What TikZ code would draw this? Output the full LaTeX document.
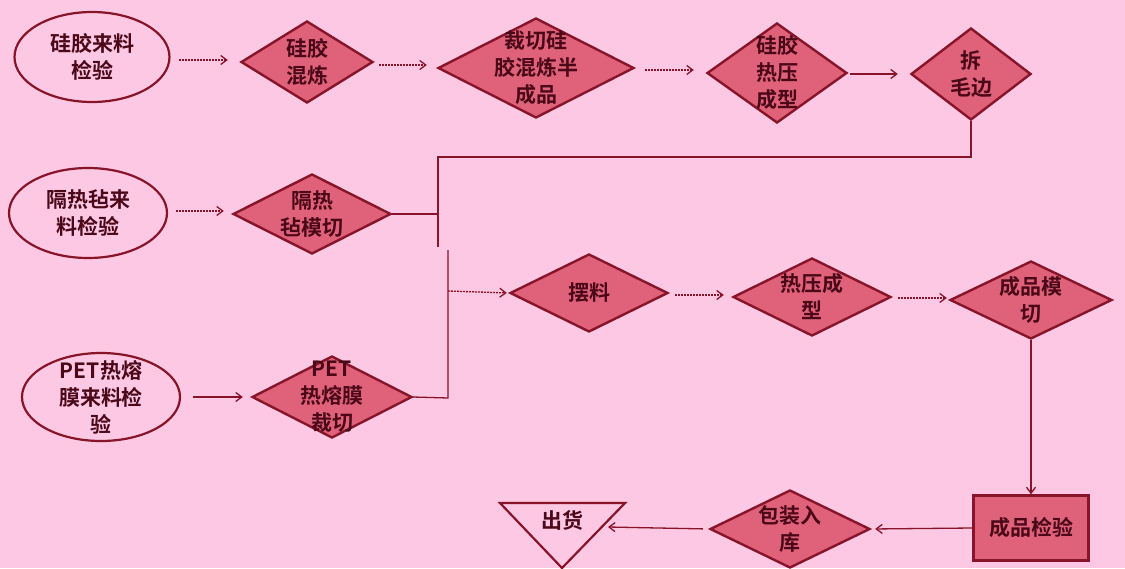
\documentclass[tikz,border=0pt]{standalone}
\usepackage{fontspec}
\newfontfamily\cjk{Noto Sans CJK SC Bold}
\usetikzlibrary{shapes.geometric,arrows.meta}
\definecolor{bg}{RGB}{252,200,228}
\definecolor{dfill}{RGB}{224,98,122}
\definecolor{edge}{RGB}{135,20,40}
\definecolor{ink}{RGB}{75,8,24}
\tikzset{
  x=1pt,y=-1pt,
  dia/.style={draw=edge,line width=2.4pt,fill=dfill,shape=diamond,inner sep=0pt},
  ell/.style={draw=edge,line width=2.2pt,fill=bg,shape=ellipse,inner sep=0pt},
  box/.style={draw=edge,line width=2.4pt,fill=dfill,shape=rectangle,inner sep=0pt},
  txt/.style={text=ink,font=\cjk\fontsize{21}{27}\selectfont,align=center,inner sep=0pt},
  link/.style={draw=edge,line width=1.3pt},
  dlink/.style={draw=edge,line width=1.3pt,dash pattern=on 2pt off 1pt,-{Straight Barb[length=6pt,width=9pt,line width=1.3pt]}},
  slink/.style={draw=edge,line width=1.3pt,-{Straight Barb[length=6pt,width=9pt,line width=1.3pt]}},
}
\begin{document}
\begin{tikzpicture}
\path[use as bounding box,fill=bg] (0,0) rectangle (1125,568);

% row 1
\node[ell,minimum width=155pt,minimum height=90pt] (e1) at (92,57) {};
\node[txt] at (e1) {硅胶来料\\检验};
\node[dia,minimum width=132pt,minimum height=82pt] (d1) at (307,62) {};
\node[txt] at (d1) {硅胶\\混炼};
\node[dia,minimum width=196pt,minimum height=100pt] (d2) at (536,68) {};
\node[txt] at (d2) {裁切硅\\胶混炼半\\成品};
\node[dia,minimum width=140pt,minimum height=100pt] (d3) at (777,73) {};
\node[txt] at (d3) {硅胶\\热压\\成型};
\node[dia,minimum width=120pt,minimum height=92pt] (d4) at (971,74) {};
\node[txt] at (d4) {拆\\毛边};

% row 2
\node[ell,minimum width=158pt,minimum height=90pt] (e2) at (88,213) {};
\node[txt] at (e2) {隔热毡来\\料检验};
\node[dia,minimum width=158pt,minimum height=80pt] (d5) at (312,214) {};
\node[txt] at (d5) {隔热\\毡模切};

% row 3
\node[ell,minimum width=158pt,minimum height=88pt] (e3) at (101,397) {};
\node[txt] at (e3) {PET热熔\\膜来料检\\验};
\node[dia,minimum width=160pt,minimum height=82pt] (d6) at (332,397) {};
\node[txt] at (d6) {PET\\热熔膜\\裁切};

% middle row
\node[dia,minimum width=158pt,minimum height=78pt] (d7) at (589,293) {};
\node[txt] at (d7) {摆料};
\node[dia,minimum width=158pt,minimum height=78pt] (d8) at (812,297) {};
\node[txt] at (d8) {热压成\\型};
\node[dia,minimum width=162pt,minimum height=78pt] (d9) at (1031,300) {};
\node[txt] at (d9) {成品模\\切};

% bottom row
\node[box,minimum width=115pt,minimum height=65pt] (r) at (1031,528) {};
\node[txt] at (r) {成品检验};
\node[dia,minimum width=160pt,minimum height=78pt] (d10) at (790,529) {};
\node[txt] at (d10) {包装入\\库};
\draw[draw=edge,line width=2.2pt,fill=bg,line join=miter] (500,503) -- (625,503) -- (562,568) -- cycle;
\node[txt] (t) at (562,520) {出货};
\coordinate (tr) at (608,527);

% bus coordinates
\coordinate (j1) at (438,157);
\coordinate (j2) at (438,247);
\coordinate (j3) at (448,250);
\coordinate (j4) at (448,398);
\coordinate (j5) at (448,291);

% connectors
\draw[dlink,shorten <=8pt,shorten >=12pt] (e1.east |- 0,60) -- (d1.west |- 0,60);
\draw[dlink,shorten <=5pt,shorten >=10pt] (d1.east |- 0,65) -- (d2.west |- 0,65);
\draw[dlink,shorten <=10pt,shorten >=12pt] (d2.east |- 0,70) -- (d3.west |- 0,70);
\draw[slink,shorten <=2pt,shorten >=12pt] (d3.east |- 0,74) -- (d4.west |- 0,74);
\draw[link] (d4.south) |- (j1) -- (j2);
\draw[dlink,shorten <=8pt,shorten >=8pt] (e2.east |- 0,211) -- (d5.west |- 0,211);
\draw[link] (d5.east) -- (d5.east -| j1);
\draw[slink,shorten <=12pt,shorten >=8pt] (e3.east) -- (d6.west);
\draw[link] (d6.east) -- (j4) -- (j3);
\draw[dlink,shorten >=2pt] (j5) -- (d7.west);
\draw[dlink,shorten <=6pt,shorten >=8pt] (d7.east |- 0,295) -- (d8.west |- 0,295);
\draw[dlink,shorten <=6pt,shorten >=2pt] (d8.east |- 0,298) -- (d9.west |- 0,298);
\draw[slink] (d9.south) -- (r.north);
\draw[slink,shorten >=4pt] (r.west) -- (d10.east);
\draw[slink,shorten <=6pt] (d10.west) -- (tr);
\end{tikzpicture}
\end{document}
